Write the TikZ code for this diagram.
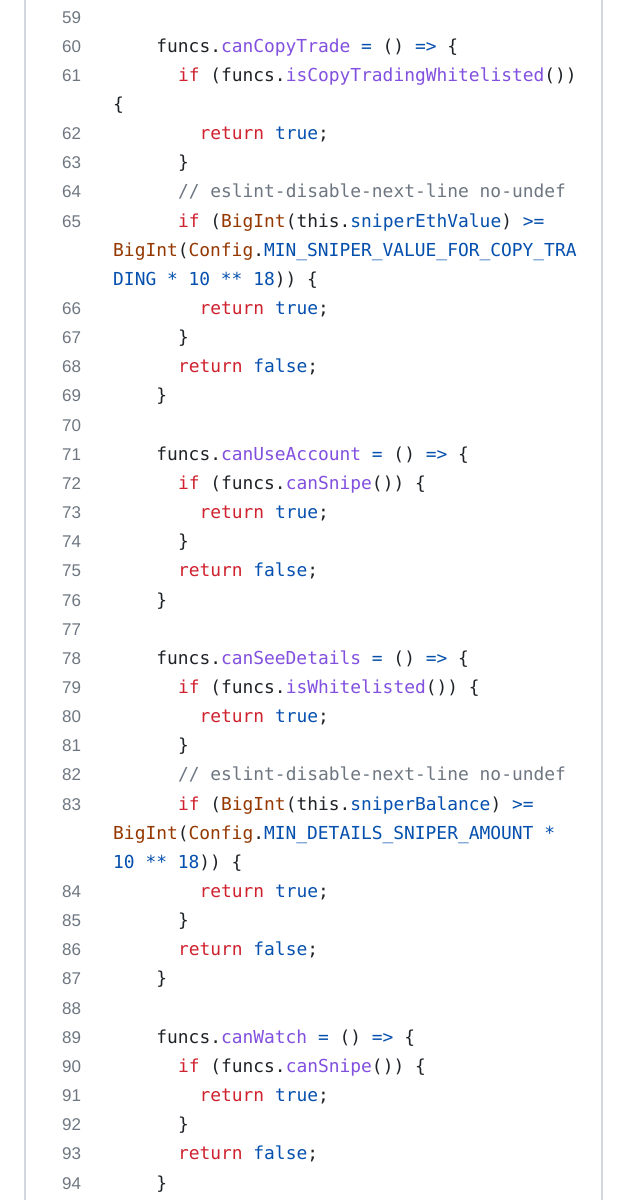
\documentclass[tikz,border=0pt]{standalone}
\usepackage{fontspec}
\setmainfont{Liberation Sans}
\setmonofont{DejaVu Sans Mono}
\definecolor{kw}{HTML}{CF222E}
\definecolor{pu}{HTML}{8250DF}
\definecolor{bl}{HTML}{0550AE}
\definecolor{br}{HTML}{953800}
\definecolor{cm}{HTML}{6E7781}
\definecolor{tx}{HTML}{1F2328}
\definecolor{ln}{HTML}{6E7781}
\definecolor{fr}{HTML}{D0D7DE}
\newcommand{\Kw}[1]{\textcolor{kw}{#1}}
\newcommand{\Pu}[1]{\textcolor{pu}{#1}}
\newcommand{\Bl}[1]{\textcolor{bl}{#1}}
\newcommand{\Br}[1]{\textcolor{br}{#1}}
\newcommand{\Cm}[1]{\textcolor{cm}{#1}}
\begin{document}
\begin{tikzpicture}[x=1pt,y=1pt,
  code/.style={anchor=base west,inner sep=0pt,font=\ttfamily\fontsize{17.9}{20}\selectfont,text=tx},
  lnum/.style={anchor=base west,inner sep=0pt,font=\fontsize{17}{20}\selectfont,text=ln}]
\useasboundingbox (0,0) rectangle (623,-1200);
\fill[white] (0,0) rectangle (623,-1200);
\draw[fr,line width=1.2pt] (25,0) -- (25,-1200);
\draw[fr,line width=1.2pt] (602,0) -- (602,-1200);
\newcommand{\R}[4]{% row, linenum, col, text
  \pgfmathsetmacro{\yy}{-(17+29.15*#1)-6}
  \node[lnum] (n#1) at (62,\yy) {#2};
  \node[code] (c#1) at ({113+10.8*#3},\yy) {#4};}
\newcommand{\W}[3]{% wrap row, col, text
  \pgfmathsetmacro{\yy}{-(17+29.15*#1)-6}
  \node[code] (c#1) at ({113+10.8*#2},\yy) {#3};}
\R{0}{59}{0}{}
\R{1}{60}{4}{funcs.\Pu{canCopyTrade} \Bl{=} () \Bl{=>} \{}
\R{2}{61}{6}{\Kw{if} (funcs.\Pu{isCopyTradingWhitelisted}())}
\W{3}{0}{\{}
\R{4}{62}{8}{\Kw{return} \Bl{true};}
\R{5}{63}{6}{\}}
\R{6}{64}{6}{\Cm{// eslint-disable-next-line no-undef}}
\R{7}{65}{6}{\Kw{if} (\Br{BigInt}(this.\Bl{sniperEthValue}) \Bl{>=}}
\W{8}{0}{\Br{BigInt}(\Br{Config}.\Bl{MIN\_SNIPER\_VALUE\_FOR\_COPY\_TRA}}
\W{9}{0}{\Bl{DING} \Bl{*} \Bl{10} \Bl{**} \Bl{18})) \{}
\R{10}{66}{8}{\Kw{return} \Bl{true};}
\R{11}{67}{6}{\}}
\R{12}{68}{6}{\Kw{return} \Bl{false};}
\R{13}{69}{4}{\}}
\R{14}{70}{0}{}
\R{15}{71}{4}{funcs.\Pu{canUseAccount} \Bl{=} () \Bl{=>} \{}
\R{16}{72}{6}{\Kw{if} (funcs.\Pu{canSnipe}()) \{}
\R{17}{73}{8}{\Kw{return} \Bl{true};}
\R{18}{74}{6}{\}}
\R{19}{75}{6}{\Kw{return} \Bl{false};}
\R{20}{76}{4}{\}}
\R{21}{77}{0}{}
\R{22}{78}{4}{funcs.\Pu{canSeeDetails} \Bl{=} () \Bl{=>} \{}
\R{23}{79}{6}{\Kw{if} (funcs.\Pu{isWhitelisted}()) \{}
\R{24}{80}{8}{\Kw{return} \Bl{true};}
\R{25}{81}{6}{\}}
\R{26}{82}{6}{\Cm{// eslint-disable-next-line no-undef}}
\R{27}{83}{6}{\Kw{if} (\Br{BigInt}(this.\Bl{sniperBalance}) \Bl{>=}}
\W{28}{0}{\Br{BigInt}(\Br{Config}.\Bl{MIN\_DETAILS\_SNIPER\_AMOUNT} \Bl{*}}
\W{29}{0}{\Bl{10} \Bl{**} \Bl{18})) \{}
\R{30}{84}{8}{\Kw{return} \Bl{true};}
\R{31}{85}{6}{\}}
\R{32}{86}{6}{\Kw{return} \Bl{false};}
\R{33}{87}{4}{\}}
\R{34}{88}{0}{}
\R{35}{89}{4}{funcs.\Pu{canWatch} \Bl{=} () \Bl{=>} \{}
\R{36}{90}{6}{\Kw{if} (funcs.\Pu{canSnipe}()) \{}
\R{37}{91}{8}{\Kw{return} \Bl{true};}
\R{38}{92}{6}{\}}
\R{39}{93}{6}{\Kw{return} \Bl{false};}
\R{40}{94}{4}{\}}
\end{tikzpicture}
\end{document}
